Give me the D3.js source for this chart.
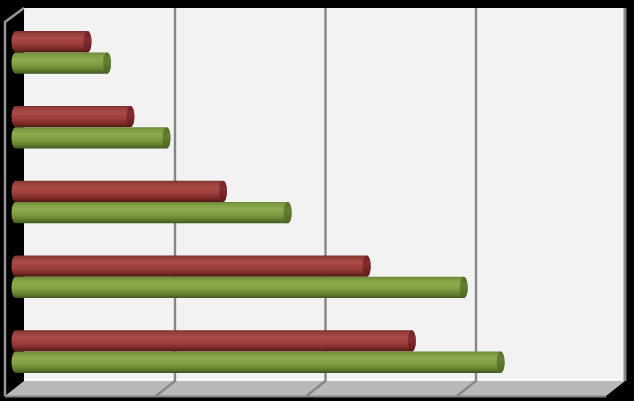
<!DOCTYPE html>
<html><head><meta charset="utf-8">
<script src="https://cdn.jsdelivr.net/npm/d3@7"></script>
<style>html,body{margin:0;padding:0;background:#000}svg{display:block}</style>
</head><body><svg id="c" width="634" height="401"></svg>
<script>
const categories = ["E","D","C","B","A"];
const redValues = [0.505,0.79,1.405,2.36,2.66];
const greenValues = [0.635,1.03,1.835,3.005,3.25];
const ticks = [0,1,2,3,4];

const svg = d3.select("#c");
const W=634,H=401;
const wall={l:24,r:625,t:8,b:381}, dx=19, dy=15;
const x0=d3.scaleLinear().domain([0,4]).range([5.5,607.5]);   // front of floor
const xm=d3.scaleLinear().domain([0,4]).range([11.5,613.5]);  // mid depth where bars sit
const y=d3.scaleBand().domain(categories).range([15,389]).paddingInner(0).paddingOuter(0);

const defs=svg.append("defs");
function grad(id,stops){
  const g=defs.append("linearGradient").attr("id",id).attr("x1",0).attr("x2",0).attr("y1",0).attr("y2",1);
  stops.forEach(s=>g.append("stop").attr("offset",s[0]).attr("stop-color",s[1]));
}
grad("redG",[[0,"#7e2f2d"],[.12,"#96403e"],[.32,"#ab4a47"],[.6,"#9c3d3b"],[.82,"#7c2b29"],[1,"#4e1614"]]);
grad("greenG",[[0,"#6b8836"],[.12,"#7e9c42"],[.32,"#8dab4d"],[.6,"#7e9b40"],[.82,"#627e2f"],[1,"#3f5520"]]);
grad("redCap",[[0,"#6e2426"],[.4,"#852d30"],[1,"#611a1c"]]);
grad("greenCap",[[0,"#55702a"],[.4,"#647f31"],[1,"#4c6524"]]);
const soft=defs.append("filter").attr("id","soft").attr("x","-5%").attr("y","-5%").attr("width","110%").attr("height","110%");
soft.append("feGaussianBlur").attr("stdDeviation",0.5);

const root=svg.append("g").attr("filter","url(#soft)");
root.append("rect").attr("width",W).attr("height",H).attr("fill","#000");
// back wall
root.append("rect").attr("x",wall.l).attr("y",wall.t).attr("width",wall.r-wall.l).attr("height",wall.b-wall.t).attr("fill","#f2f2f2");
root.append("rect").attr("x",wall.l).attr("y",wall.b-3).attr("width",wall.r-wall.l).attr("height",3).attr("fill","#f8f8f8");
// floor
root.append("polygon").attr("points",[[wall.l,wall.b],[wall.r,wall.b],[wall.r-dx,wall.b+dy],[wall.l-dx,wall.b+dy]].join(" ")).attr("fill","#b9b9b9");
root.append("line").attr("x1",wall.l-dx).attr("x2",wall.r-dx).attr("y1",wall.b+dy+.5).attr("y2",wall.b+dy+.5).attr("stroke","#868686").attr("stroke-width",2);
// left edge
root.append("path").attr("d",d3.line()([[wall.l-dx,wall.b+dy],[wall.l-dx,wall.t+dy-1],[wall.l,wall.t]])).attr("fill","none").attr("stroke","#969696").attr("stroke-width",2.5);
// right wall edge
root.append("line").attr("x1",wall.r).attr("x2",wall.r).attr("y1",wall.t).attr("y2",wall.b).attr("stroke","#868686").attr("stroke-width",3);
// gridlines
ticks.slice(1,4).forEach(t=>{
  const fx=x0(t);
  root.append("path").attr("d",d3.line()([[fx+dx,wall.t],[fx+dx,wall.b],[fx,wall.b+dy]])).attr("fill","none").attr("stroke","#868686").attr("stroke-width",2.4);
});
// bars
const bh=y.bandwidth()*0.285, rx=4;
function bar(vals,fill,capFill,offset){
  const g=root.append("g").selectAll("g").data(vals).join("g");
  const top=(d,i)=>y(categories[i])+y.bandwidth()/2+offset*bh;
  g.append("path").attr("fill",fill).attr("d",(d,i)=>{
    const t=top(d,i),X=xm(d),L=xm(0),ry=bh/2;
    return `M${L+rx},${t}L${X},${t}A${rx},${ry} 0 0 1 ${X},${t+bh}L${L+rx},${t+bh}A${rx},${ry} 0 0 1 ${L+rx},${t}Z`;
  });
  g.append("ellipse").attr("cx",d=>xm(d)).attr("cy",(d,i)=>top(d,i)+bh/2).attr("rx",rx).attr("ry",bh/2).attr("fill",capFill);
}
bar(redValues,"url(#redG)","url(#redCap)",-1);
bar(greenValues,"url(#greenG)","url(#greenCap)",0);
</script></body></html>
